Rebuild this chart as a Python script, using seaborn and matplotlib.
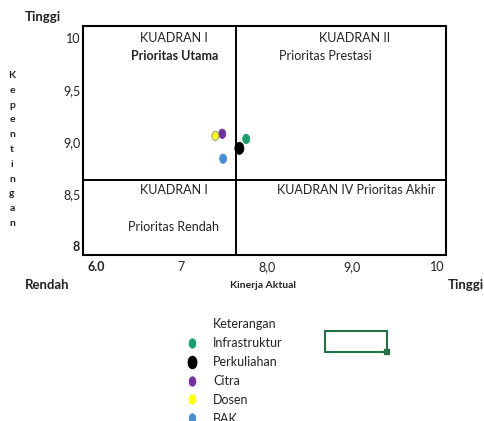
import numpy as np
import pandas as pd
import matplotlib
matplotlib.use("Agg")
import matplotlib.pyplot as plt
from matplotlib.path import Path
from matplotlib.lines import Line2D
from matplotlib.patches import Rectangle
import seaborn as sns

# data
aspek = ["Infrastruktur", "Perkuliahan", "Citra", "Dosen", "BAK"]
kinerja = [7.76, 7.68, 7.48, 7.40, 7.49]
kepentingan = [9.03, 8.94, 9.08, 9.06, 8.84]
warna = ["#17a06b", "#000000", "#7030a0", "#ffff00", "#4a8fd4"]
ukuran = [45, 75, 45, 45, 45]

batas_kinerja = 7.64
batas_kepentingan = 8.64

x_ticks = [6, 7, 8, 9, 10]
x_labels = ["6.0", "7", "8,0", "9,0", "10"]
y_ticks = [10, 9.5, 9.0, 8.5, 8]
y_labels = ["10", "9,5", "9,0", "8,5", "8"]

df = pd.DataFrame({"aspek": aspek, "kinerja": kinerja, "kepentingan": kepentingan})

sns.set_style("white")
plt.rcParams["font.family"] = ["Lato", "DejaVu Sans"]
teks = "#222222"

fig = plt.figure(figsize=(4.85, 4.21), dpi=100)
ax = fig.add_axes([0.171, 0.394, 0.749, 0.544])

# vertical ellipse marker
lingkar = Path.unit_circle()
elips = Path(lingkar.vertices * np.array([0.75, 1.0]), lingkar.codes)

sns.scatterplot(
    data=df, x="kinerja", y="kepentingan", hue="aspek", size="aspek",
    palette=dict(zip(aspek, warna)), sizes=dict(zip(aspek, ukuran)),
    marker=elips, linewidth=0.6, ax=ax, legend=True, zorder=3,
)
tepi = [c if c != "#ffff00" else "#7f8fa0" for c in warna]
ax.collections[0].set_edgecolors(tepi)

ax.axvline(batas_kinerja, color="black", lw=1.4, zorder=2)
ax.axhline(batas_kepentingan, color="black", lw=1.4, zorder=2)

ax.set_xlim(5.85, 10.1)
ax.set_ylim(7.913, 10.115)
ax.set_xticks(x_ticks)
ax.set_xticklabels(x_labels)
ax.set_yticks(y_ticks)
ax.set_yticklabels(y_labels)
ax.tick_params(axis="x", length=0, pad=4, labelsize=9, labelcolor=teks)
ax.tick_params(axis="y", length=0, pad=2, labelsize=9, labelcolor=teks)
ax.get_xticklabels()[0].set_fontweight("bold")
ax.get_yticklabels()[-1].set_fontweight("bold")
ax.set_xlabel("")
ax.set_ylabel("")
for sp in ax.spines.values():
    sp.set_color("black")
    sp.set_linewidth(1.5)

# quadrant captions
kw = dict(transform=ax.transAxes, ha="center", va="center", fontsize=9, color=teks)
ax.text(0.249, 0.948, "KUADRAN I", **kw)
ax.text(0.253, 0.869, "Prioritas Utama", fontweight="bold", **kw)
ax.text(0.749, 0.948, "KUADRAN II", **kw)
ax.text(0.667, 0.869, "Prioritas Prestasi", **kw)
ax.text(0.249, 0.284, "KUADRAN I", **kw)
ax.text(0.249, 0.122, "Prioritas Rendah", **kw)
ax.text(0.752, 0.284, "KUADRAN IV Prioritas Akhir", **kw)

# axis captions
fig.text(25 / 485, 1 - 17 / 421, "Tinggi", fontsize=9.5, fontweight="bold", color=teks, va="center")
fig.text(25 / 485, 1 - 285 / 421, "Rendah", fontsize=9.5, fontweight="bold", color=teks, va="center")
fig.text(263 / 485, 1 - 285 / 421, "Kinerja Aktual", fontsize=7.5, fontweight="bold", color=teks,
         ha="center", va="center")
fig.text(448 / 485, 1 - 285 / 421, "Tinggi", fontsize=9.5, fontweight="bold", color=teks, va="center")
fig.text(12 / 485, 1 - 71 / 421, "\n".join("Kepentingan"), fontsize=7.5, fontweight="bold", color=teks,
         ha="center", va="top", linespacing=1.83)

# legend
handles, labels = ax.get_legend_handles_labels()
ax.get_legend().remove()
kosong = Line2D([], [], linestyle="none", marker="none")
fig.legend([kosong] + handles, ["Keterangan"] + labels, loc="upper left",
           bbox_to_anchor=(179.75 / 485, 1 - 312 / 421), frameon=False,
           fontsize=9, borderpad=0, handlelength=1.0, handletextpad=1.18,
           labelspacing=0.55, labelcolor=teks, markerscale=1.2)

# empty selected cell next to the legend
fig.patches.append(Rectangle((325 / 485, 1 - 352 / 421), 62 / 485, 21 / 421,
                             transform=fig.transFigure, fill=False, edgecolor="#217346", lw=1.5))
fig.patches.append(Rectangle((384 / 485, 1 - 354 / 421), 5 / 485, 5 / 421,
                             transform=fig.transFigure, color="#217346"))

fig.savefig("out.png", dpi=100)
